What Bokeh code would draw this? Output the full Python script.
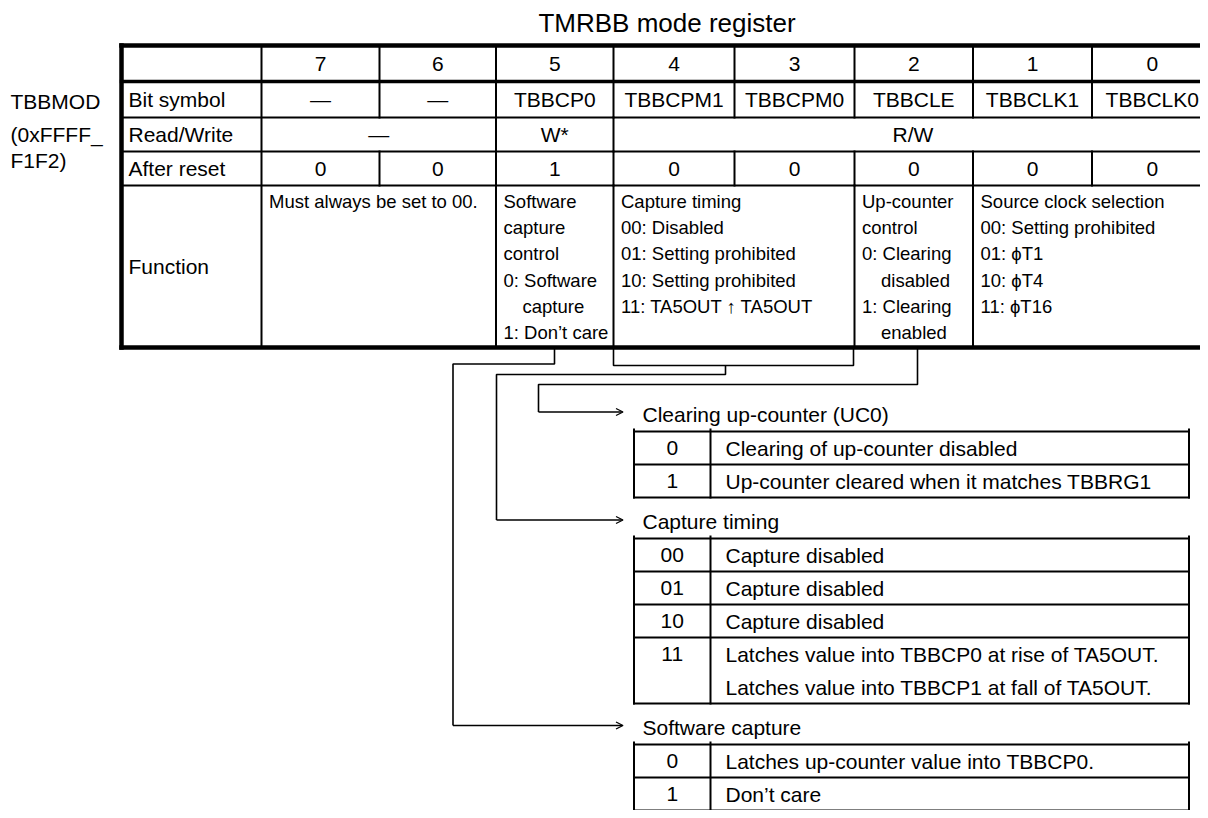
from bokeh.plotting import figure
from bokeh.models import Range1d, ColumnDataSource, Arrow, OpenHead
from bokeh.core.properties import value
from bokeh.embed import file_html
from bokeh.resources import INLINE

# ---------------- content ----------------
TITLE = "TMRBB mode register"
REG_NAME = ["TBBMOD", "(0xFFFF_", "F1F2)"]
ROW_LABELS = ["Bit symbol", "Read/Write", "After reset", "Function"]
BITS = ["7", "6", "5", "4", "3", "2", "1", "0"]
BIT_SYMBOLS = ["\u2014", "\u2014", "TBBCP0", "TBBCPM1", "TBBCPM0", "TBBCLE", "TBBCLK1", "TBBCLK0"]
RW_GROUPS = [("\u2014", 7, 6), ("W*", 5, 5), ("R/W", 4, 0)]
RESET_VALUES = ["0", "0", "1", "0", "0", "0", "0", "0"]
# (hi bit, lo bit, [(text, indented)])
FUNCTION_GROUPS = [
    (7, 6, [("Must always be set to 00.", False)]),
    (5, 5, [("Software", False), ("capture", False), ("control", False),
            ("0: Software", False), ("capture", True), ("1: Don\u2019t care", False)]),
    (4, 3, [("Capture timing", False), ("00: Disabled", False), ("01: Setting prohibited", False),
            ("10: Setting prohibited", False), ("11: TA5OUT \u2191 TA5OUT", False)]),
    (2, 2, [("Up-counter", False), ("control", False), ("0: Clearing", False),
            ("disabled", True), ("1: Clearing", False), ("enabled", True)]),
    (1, 0, [("Source clock selection", False), ("00: Setting prohibited", False),
            ("01: \u03d5T1", False), ("10: \u03d5T4", False), ("11: \u03d5T16", False)]),
]
UC0_TITLE = "Clearing up-counter (UC0)"
UC0_CODES = ["0", "1"]
UC0_TEXT = [["Clearing of up-counter disabled"], ["Up-counter cleared when it matches TBBRG1"]]
CAP_TITLE = "Capture timing"
CAP_CODES = ["00", "01", "10", "11"]
CAP_TEXT = [["Capture disabled"], ["Capture disabled"], ["Capture disabled"],
            ["Latches value into TBBCP0 at rise of TA5OUT.", "Latches value into TBBCP1 at fall of TA5OUT."]]
SW_TITLE = "Software capture"
SW_CODES = ["0", "1"]
SW_TEXT = [["Latches up-counter value into TBBCP0."], ["Don\u2019t care"]]

# ---------------- layout ----------------
FONT = value("Liberation Sans")
COL_EDGES = [121, 261, 379, 495.5, 613, 734, 854, 972.5, 1091.5, 1212]   # label col + bits 7..0
ROW_EDGES = [45, 81, 117, 151, 185, 347]
LINE_H = 26.2

def bit_left(b):
    return COL_EDGES[1 + (7 - b)]

def bit_right(b):
    return COL_EDGES[2 + (7 - b)]

p = figure(width=1200, height=810, x_range=Range1d(0, 1200), y_range=Range1d(810, 0),
           output_backend="svg", toolbar_location=None, x_axis_type=None, y_axis_type=None,
           min_border=0, outline_line_color=None, background_fill_color="white")
p.grid.visible = False

segs = {}  # width -> lists

def seg(x0, y0, x1, y1, w):
    d = segs.setdefault(w, ([], [], [], []))
    d[0].append(x0); d[1].append(y0); d[2].append(x1); d[3].append(y1)

texts = {}  # (size, align) -> lists

def txt(x, y, t, size, align="center"):
    d = texts.setdefault((size, align), ([], [], []))
    d[0].append(x); d[1].append(y); d[2].append(t)

L, R = COL_EDGES[0], COL_EDGES[-1]
T, B = ROW_EDGES[0], ROW_EDGES[-1]

# outer border
seg(L, T, R, T, 4.5)
seg(L, B, R, B, 4.5)
seg(L, T, L, B, 4.5)
seg(R, T, R, B, 4.5)
# header separator
seg(L, ROW_EDGES[1], R, ROW_EDGES[1], 3.5)
for y in ROW_EDGES[2:5]:
    seg(L, y, R, y, 2)
seg(COL_EDGES[1], T, COL_EDGES[1], B, 2)

def group_bounds(groups, y0, y1):
    for g in groups[1:]:
        x = bit_left(g[0])
        seg(x, y0, x, y1, 2)

single = [(b, b) for b in range(7, -1, -1)]
for ri in (0, 1, 3):
    group_bounds(single, ROW_EDGES[ri], ROW_EDGES[ri + 1])
group_bounds([(g[1], g[2]) for g in RW_GROUPS], ROW_EDGES[2], ROW_EDGES[3])
group_bounds([(g[0], g[1]) for g in FUNCTION_GROUPS], ROW_EDGES[4], ROW_EDGES[5])

# title and register name
txt((L + R) / 2, 22, TITLE, "26px")
for i, t in enumerate(REG_NAME):
    txt(10, [101, 134, 160][i], t, "21px", "left")

# row labels
for i, t in enumerate(ROW_LABELS):
    txt(COL_EDGES[0] + 7, (ROW_EDGES[i + 1] + ROW_EDGES[i + 2]) / 2, t, "21px", "left")

def center_y(ri):
    return (ROW_EDGES[ri] + ROW_EDGES[ri + 1]) / 2

for k, b in enumerate(range(7, -1, -1)):
    cx = (bit_left(b) + bit_right(b)) / 2
    txt(cx, center_y(0), BITS[k], "21px")
    txt(cx, center_y(1), BIT_SYMBOLS[k], "21px")
    txt(cx, center_y(3), RESET_VALUES[k], "21px")
for t, hi, lo in RW_GROUPS:
    txt((bit_left(hi) + bit_right(lo)) / 2, center_y(2), t, "21px")
for hi, lo, lines in FUNCTION_GROUPS:
    x0 = bit_left(hi) + 7.5
    for j, (t, ind) in enumerate(lines):
        txt(x0 + (19 if ind else 0), ROW_EDGES[4] + 16 + j * LINE_H, t, "18.5px", "left")

# ---------------- sub tables ----------------
SX0, SX1, SX2 = 633.5, 710, 1188.5
ROW_SUB = 33.0
GAP = 41.0
sub_tops = []
top = 431
for title, codes, rows in [(UC0_TITLE, UC0_CODES, UC0_TEXT), (CAP_TITLE, CAP_CODES, CAP_TEXT),
                           (SW_TITLE, SW_CODES, SW_TEXT)]:
    sub_tops.append(top)
    txt(SX0 + 8.5, top - 17.5, title, "21px", "left")
    y = top
    seg(SX0, y, SX2, y, 2)
    for code, lines in zip(codes, rows):
        h = ROW_SUB * len(lines)
        txt((SX0 + SX1) / 2, y + ROW_SUB / 2, code, "21px")
        for j, t in enumerate(lines):
            txt(SX1 + 15, y + ROW_SUB / 2 + j * ROW_SUB, t, "21px", "left")
        y += h
        seg(SX0, y, SX2, y, 2)
    for x in (SX0, SX1, SX2):
        seg(x, top - 2, x, y, 2)
    top = y + GAP

# ---------------- connectors ----------------
ARROW_X = 622.5
conn_xs, conn_ys = [], []
arrows = []
# bit 2 -> UC0
ya = sub_tops[0] - 19.5
conn_xs.append([917, 917, 538, 538]); conn_ys.append([B, 384, 384, ya])
arrows.append((538, ya))
# bits 4..3 -> capture timing (bracket)
conn_xs.append([bit_left(4), bit_left(4), bit_right(3) - 1, bit_right(3) - 1])
conn_ys.append([B, 365, 365, B])
ya = sub_tops[1] - 18.5
conn_xs.append([725, 725, 496, 496]); conn_ys.append([365, 374, 374, ya])
arrows.append((496, ya))
# bit 5 -> software capture
ya = sub_tops[2] - 19
conn_xs.append([554, 554, 452.5, 452.5]); conn_ys.append([B, 363.5, 363.5, ya])
arrows.append((452.5, ya))
p.multi_line(conn_xs, conn_ys, line_color="black", line_width=1.6)
for x0, y0 in arrows:
    p.add_layout(Arrow(x_start=x0, y_start=y0, x_end=ARROW_X, y_end=y0, line_width=1.6,
                       end=OpenHead(size=7, line_width=1.3, line_color="black")))

for w, (x0, y0, x1, y1) in segs.items():
    p.segment(x0=x0, y0=y0, x1=x1, y1=y1, line_color="black", line_width=w, line_cap="square")

for (size, align), (xs, ys, ts) in texts.items():
    src = ColumnDataSource(dict(x=xs, y=ys, t=ts))
    p.text(x="x", y="y", text="t", source=src, text_font=FONT, text_font_size=value(size),
           text_align=align, text_baseline="middle", text_color="black")

open("out.html", "w").write(file_html(p, INLINE))
